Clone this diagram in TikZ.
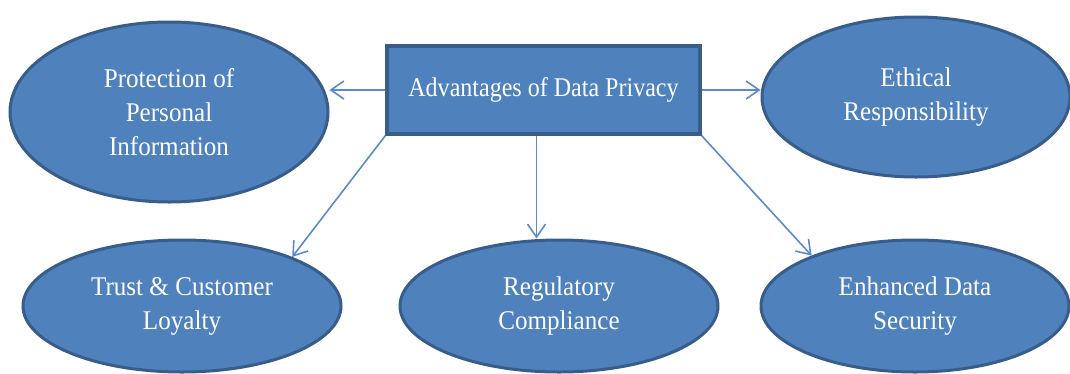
\documentclass[tikz,border=0pt]{standalone}
\usepackage{fontspec}
\setmainfont{Liberation Serif}[FakeStretch=0.93]
\newfontfamily\boxfont{Liberation Serif}[FakeStretch=0.89]
\usetikzlibrary{shapes.geometric,arrows.meta}
\definecolor{fillblue}{HTML}{4F81BD}
\definecolor{edgeblue}{HTML}{385D8A}
\definecolor{arrowblue}{HTML}{5A8ACA}
\tikzset{
  bubble/.style={ellipse, draw=edgeblue, fill=fillblue, line width=3pt, inner sep=0pt,
    text=white, align=center, font=\fontsize{27}{34}\selectfont},
  mainbox/.style={rectangle, draw=edgeblue, fill=fillblue, line width=3.5pt, inner sep=0pt,
    text=white, align=center, font=\boxfont\fontsize{27}{34}\selectfont},
  link/.style={draw=arrowblue, line width=1.6pt, -{Straight Barb[length=13pt,width=18pt,line width=1.6pt]}}
}
\begin{document}
\begin{tikzpicture}[x=1pt,y=-1pt]
\useasboundingbox (0,0) rectangle (1070,373);
\node[mainbox, minimum width=313pt, minimum height=88pt] (box) at (543.5,90) {Advantages of Data Privacy};
\node[bubble, minimum width=318pt, minimum height=180pt] (prot) at (169,112) {Protection of\\Personal\\Information};
\node[bubble, minimum width=308pt, minimum height=160pt] (eth) at (916,97) {Ethical\\Responsibility};
\node[bubble, minimum width=318pt, minimum height=132pt] (trust) at (182,306) {Trust \& Customer\\Loyalty};
\node[bubble, minimum width=318pt, minimum height=132pt] (reg) at (559,306) {Regulatory\\Compliance};
\node[bubble, minimum width=308pt, minimum height=132pt] (enh) at (915,306) {Enhanced Data\\Security};
\draw[link] (box.west) -- (prot.east |- box.west);
\draw[link] (box.east) -- (eth.west |- box.east);
\draw[link] (box.south west) -- (trust.24);
\draw[link] ([xshift=-7pt]box.south) -- ([xshift=-7pt]box.south |- reg.north);
\draw[link] (box.south east) -- (enh.154);
\end{tikzpicture}
\end{document}
